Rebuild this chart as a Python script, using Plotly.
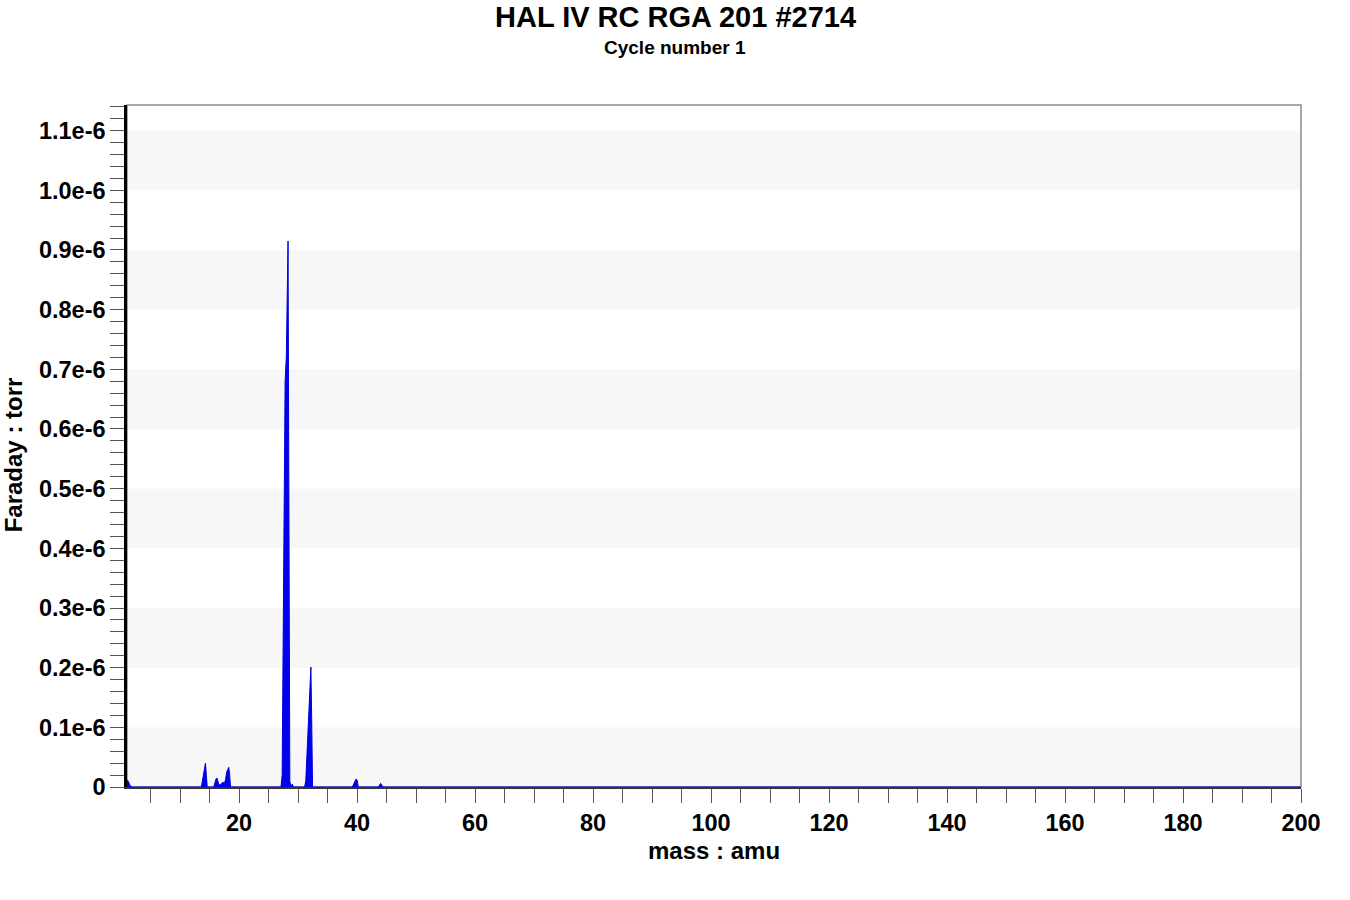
import plotly.graph_objects as go

# RGA mass scan, cycle 1 (mass in amu, Faraday pressure in torr)
mass = [1.0, 1.2, 1.5, 1.8,
        13.6, 13.8, 14.0, 14.2, 14.3, 14.45, 14.6,
        15.7, 15.9, 16.1, 16.25, 16.45, 16.6, 16.8, 17.1, 17.3, 17.5,
        17.7, 17.9, 18.1, 18.25, 18.4, 18.55,
        27.1, 27.3, 27.45, 27.6, 27.8, 28.0, 28.2, 28.3, 28.4, 28.5, 28.6,
        28.8, 29.0, 29.2,
        31.1, 31.3, 31.5, 31.7, 31.9, 32.05, 32.17, 32.3, 32.45,
        39.2, 39.5, 39.8, 40.0, 40.2,
        43.6, 43.8, 44.0, 44.2, 44.4,
        200.0]
pressure = [0.012e-6, 0.010e-6, 0.003e-6, 0.0,
            0.0, 0.012e-6, 0.025e-6, 0.036e-6, 0.040e-6, 0.020e-6, 0.0,
            0.0, 0.008e-6, 0.014e-6, 0.015e-6, 0.005e-6, 0.003e-6, 0.004e-6, 0.007e-6, 0.008e-6, 0.006e-6,
            0.012e-6, 0.025e-6, 0.031e-6, 0.033e-6, 0.020e-6, 0.0,
            0.0, 0.02e-6, 0.22e-6, 0.50e-6, 0.68e-6, 0.72e-6, 0.90e-6, 0.915e-6, 0.60e-6, 0.20e-6, 0.01e-6,
            0.0, 0.005e-6, 0.0,
            0.0, 0.01e-6, 0.05e-6, 0.11e-6, 0.135e-6, 0.18e-6, 0.201e-6, 0.12e-6, 0.0,
            0.0, 0.008e-6, 0.013e-6, 0.012e-6, 0.0,
            0.0, 0.004e-6, 0.006e-6, 0.003e-6, 0.0,
            0.0]

y_tickvals = [0.0, 0.1e-6, 0.2e-6, 0.3e-6, 0.4e-6, 0.5e-6, 0.6e-6, 0.7e-6, 0.8e-6, 0.9e-6, 1.0e-6, 1.1e-6]
y_ticktext = ["0", "0.1e-6", "0.2e-6", "0.3e-6", "0.4e-6", "0.5e-6", "0.6e-6", "0.7e-6",
              "0.8e-6", "0.9e-6", "1.0e-6", "1.1e-6"]
x_tickvals = [20, 40, 60, 80, 100, 120, 140, 160, 180, 200]

fig = go.Figure()
fig.add_trace(
  go.Scatter(
    x=mass,
    y=pressure,
    mode="lines",
    fill="tozeroy",
    fillcolor="rgb(0,0,235)",
    line=dict(color="rgb(0,0,220)", width=1),
    showlegend=False,
  )
)

# alternating grey bands between y ticks
shapes = []
for i in range(0, len(y_tickvals) - 1, 2):
  shapes.append(dict(type="rect", xref="paper", yref="y", x0=0, x1=1,
                     y0=y_tickvals[i], y1=y_tickvals[i + 1],
                     fillcolor="#f7f7f7", line=dict(width=0), layer="below"))
shapes.append(dict(type="rect", xref="paper", yref="paper", x0=0, x1=1, y0=0, y1=1,
                   line=dict(color="#8c8c8c", width=1.5), layer="below"))

font_b = dict(family="Liberation Sans, Arial", color="black", weight="bold")

fig.update_layout(
  width=1350, height=900,
  paper_bgcolor="white", plot_bgcolor="white",
  margin=dict(l=127, r=49, t=105, b=113),
  font=dict(font_b, size=23.5),
  shapes=shapes,
  annotations=[
    dict(text="HAL IV RC RGA 201 #2714", xref="paper", yref="paper", x=0.4668, y=1.129,
         showarrow=False, font=dict(font_b, size=29), yanchor="middle"),
    dict(text="Cycle number 1", xref="paper", yref="paper", x=0.4668, y=1.0836,
         showarrow=False, font=dict(font_b, size=19), yanchor="middle"),
    dict(text="mass : amu", xref="paper", yref="paper", x=0.5, y=-0.0938,
         showarrow=False, font=dict(font_b, size=24), yanchor="middle"),
    dict(text="Faraday : torr", xref="paper", yref="paper", x=-0.0967, y=0.487,
         showarrow=False, textangle=-90, font=dict(font_b, size=24),
         xanchor="center", yanchor="middle"),
  ],
)

fig.update_xaxes(
  range=[1, 200], showgrid=False, zeroline=False,
  showline=True, linecolor="#333333", linewidth=2,
  tickvals=x_tickvals, ticks="outside", ticklen=14, tickcolor="#555555", tickwidth=1,
  ticklabelstandoff=0,
  minor=dict(dtick=5, tick0=0, ticks="outside", ticklen=14, tickcolor="#555555", tickwidth=1),
)
fig.update_yaxes(
  range=[0, 1.143e-6], showgrid=False, zeroline=False,
  showline=True, linecolor="black", linewidth=2.5,
  tickvals=y_tickvals, ticktext=y_ticktext,
  ticks="outside", ticklen=14, tickcolor="#555555", tickwidth=1,
  ticklabelstandoff=0,
  minor=dict(dtick=0.02e-6, tick0=0, ticks="outside", ticklen=14, tickcolor="#555555", tickwidth=1),
)

# drop the default page margin so the figure sits at the window's top-left corner
fig.write_html("out.html", config=dict(displayModeBar=False),
               post_script="document.body.style.margin='0px';")
